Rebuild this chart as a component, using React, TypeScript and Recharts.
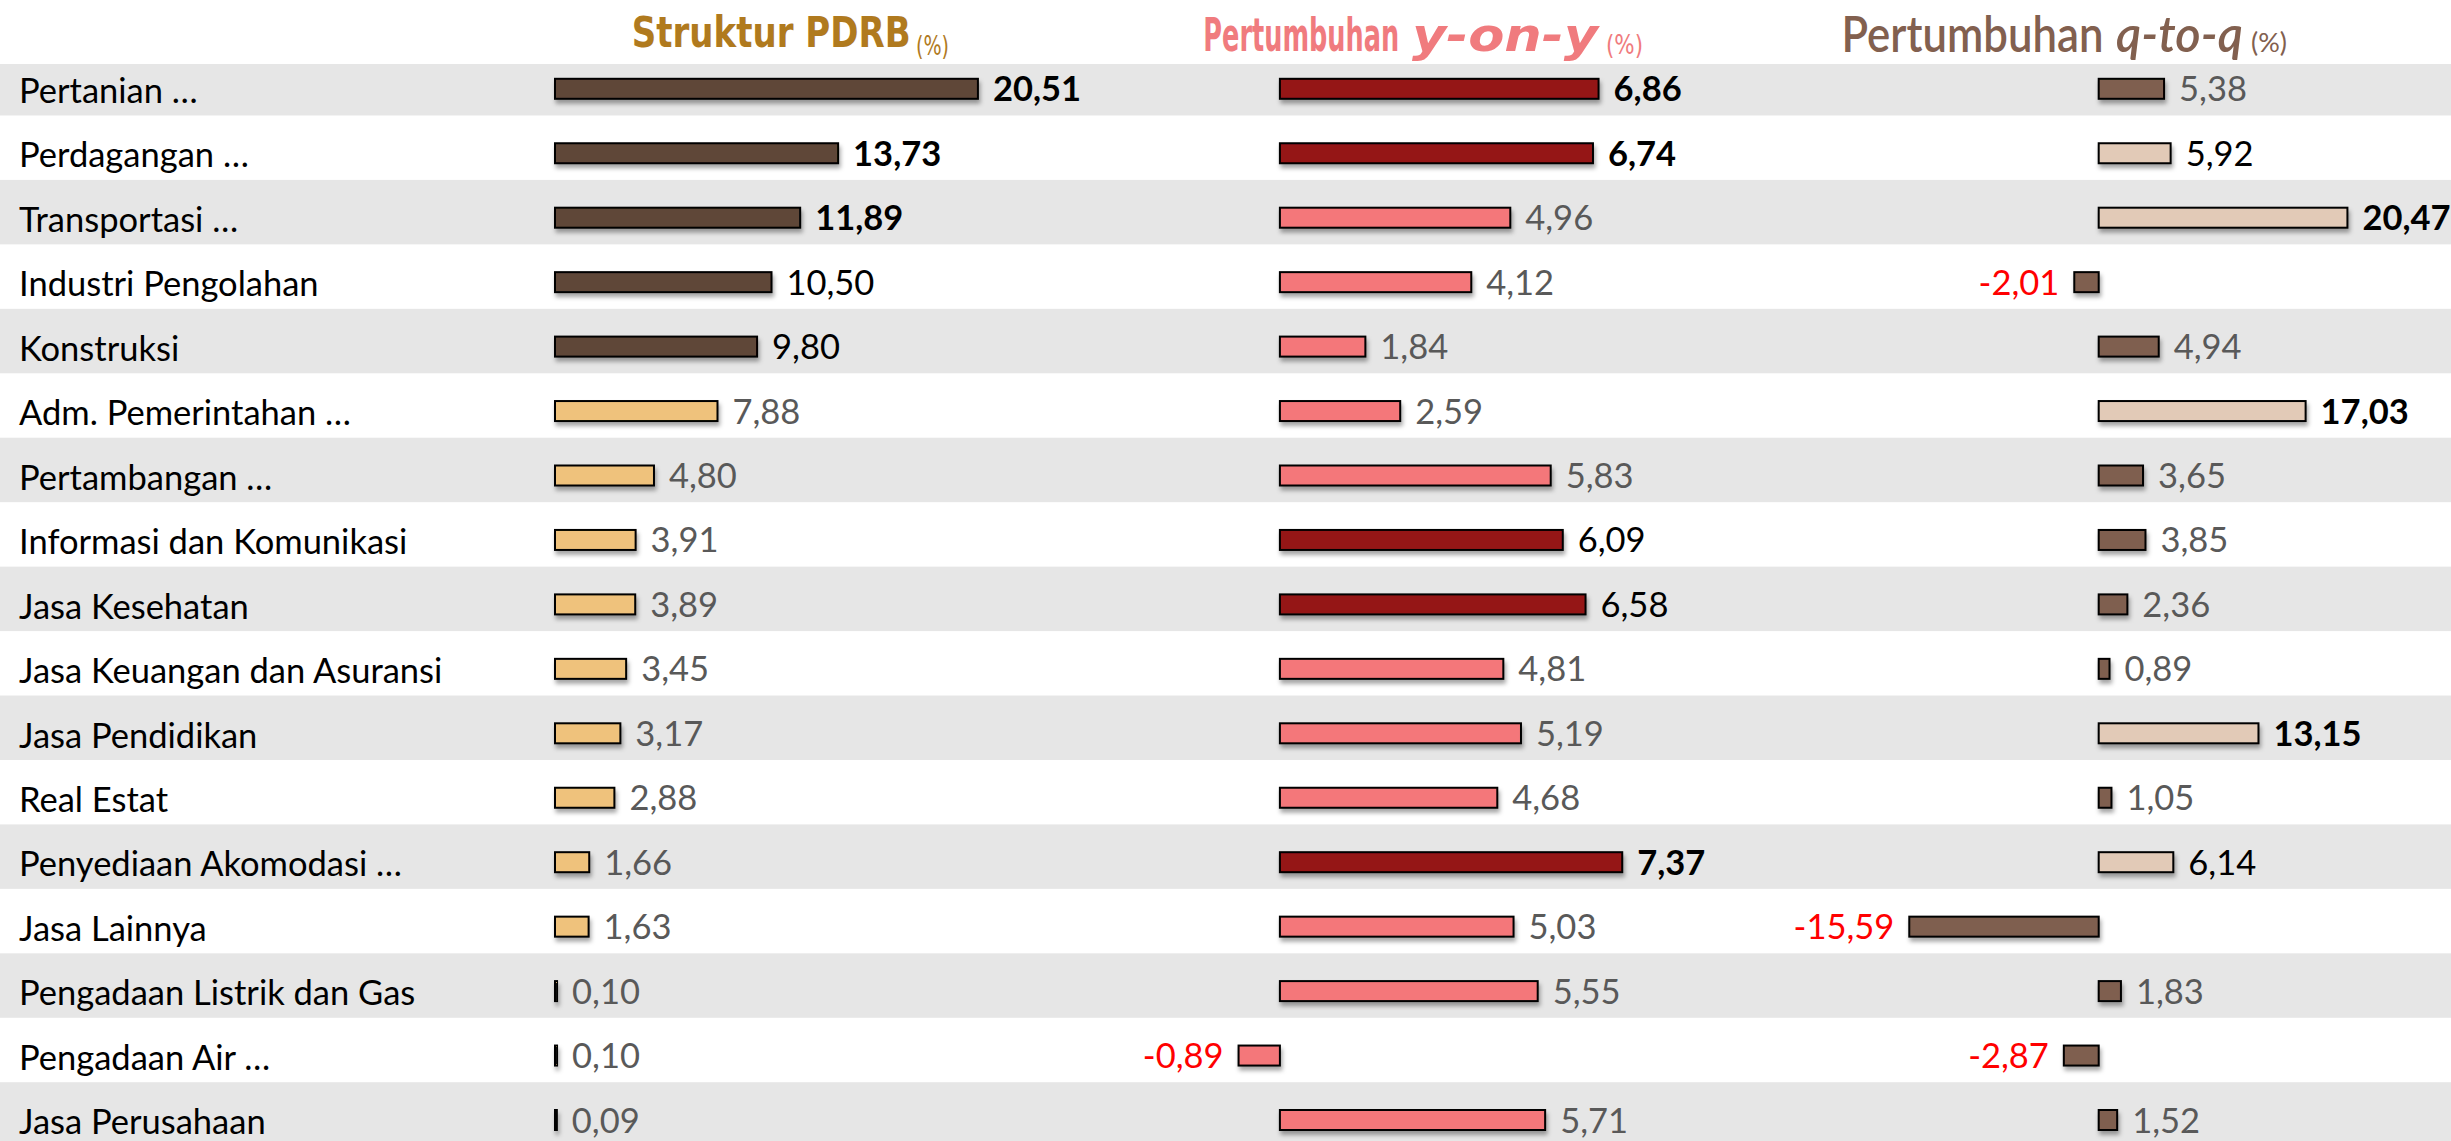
import React from "react";
import { BarChart, Bar, XAxis, YAxis } from "recharts";

const sectors = [
  "Pertanian …",
  "Perdagangan …",
  "Transportasi …",
  "Industri Pengolahan",
  "Konstruksi",
  "Adm. Pemerintahan …",
  "Pertambangan …",
  "Informasi dan Komunikasi",
  "Jasa Kesehatan",
  "Jasa Keuangan dan Asuransi",
  "Jasa Pendidikan",
  "Real Estat",
  "Penyediaan Akomodasi …",
  "Jasa Lainnya",
  "Pengadaan Listrik dan Gas",
  "Pengadaan Air …",
  "Jasa Perusahaan",
];

const strukturPdrb = [20.51, 13.73, 11.89, 10.5, 9.8, 7.88, 4.8, 3.91, 3.89, 3.45, 3.17, 2.88, 1.66, 1.63, 0.1, 0.1, 0.09];
const pertumbuhanYoy = [6.86, 6.74, 4.96, 4.12, 1.84, 2.59, 5.83, 6.09, 6.58, 4.81, 5.19, 4.68, 7.37, 5.03, 5.55, -0.89, 5.71];
const pertumbuhanQtq = [5.38, 5.92, 20.47, -2.01, 4.94, 17.03, 3.65, 3.85, 2.36, 0.89, 13.15, 1.05, 6.14, -15.59, 1.83, -2.87, 1.52];

const PAGE_W = 2451;
const PAGE_H = 1141;
const CHART_H = 1160;
const ROW_H = 64.45;
const PLOT_TOP = 56.8;
const PLOT_BOTTOM = CHART_H - PLOT_TOP - ROW_H * sectors.length;
const HEADER_BOTTOM = 64;
const STRIPE = "#e6e6e6";

const FONT = "Lato, 'Open Sans', sans-serif";
const TITLE_FONT = "'DejaVu Sans Condensed', 'DejaVu Sans', sans-serif";

const rows = sectors.map((name, i) => ({
  name,
  struktur: strukturPdrb[i],
  yoy: pertumbuhanYoy[i],
  qtq: pertumbuhanQtq[i],
}));

function rankOf(values: number[]) {
  const order = values.map((_, i) => i).sort((a, b) => values[b] - values[a]);
  const r: number[] = new Array(values.length);
  order.forEach((idx, pos) => (r[idx] = pos));
  return r;
}

const fmt = (v: number) => v.toFixed(2).replace(".", ",");

// measure natural text width so title pieces can be scaled to the reference width
const measureCtx = typeof document !== "undefined" ? document.createElement("canvas").getContext("2d") : null;

function FitText(props: {
  x: number;
  y: number;
  width: number;
  text: string;
  family: string;
  size: number;
  fill: string;
  weight?: number;
  italic?: boolean;
}) {
  const { x, y, width, text, family, size, fill, weight = 400, italic = false } = props;
  let natural = width;
  if (measureCtx) {
    measureCtx.font = `${italic ? "italic " : ""}${weight} ${size}px ${family}`;
    natural = measureCtx.measureText(text).width || width;
  }
  const sx = width / natural;
  return (
    <text
      transform={`translate(${x},${y}) scale(${sx},1)`}
      fontFamily={family}
      fontSize={size}
      fontWeight={weight}
      fontStyle={italic ? "italic" : "normal"}
      fill={fill}
    >
      {text}
    </text>
  );
}

type Panel = {
  id: "struktur" | "yoy" | "qtq";
  values: number[];
  domain: [number, number];
  left: number;
  width: number;
  marginLeft: number;
  marginRight: number;
  topFill: string;
  restFill: string;
};

const panels: Panel[] = [
  { id: "struktur", values: strukturPdrb, domain: [0, 25], left: 544.5, width: 675.5, marginLeft: 10, marginRight: 150, topFill: "#5f4639", restFill: "#efc27c" },
  { id: "yoy", values: pertumbuhanYoy, domain: [-2, 8], left: 1087.4, width: 664.5, marginLeft: 100, marginRight: 100, topFill: "#951619", restFill: "#f4777a" },
  { id: "qtq", values: pertumbuhanQtq, domain: [-18, 22], left: 1780.3, width: 676, marginLeft: 100, marginRight: 90, topFill: "#e2cab7", restFill: "#7f5f50" },
];

function labelStyle(v: number, rank: number) {
  if (v < 0) return { fill: "#ff0000", weight: 400 };
  if (rank < 3) return { fill: "#000000", weight: 700 };
  if (rank < 5) return { fill: "#000000", weight: 400 };
  return { fill: "#595959", weight: 400 };
}

function makeShape(panel: Panel) {
  const ranks = rankOf(panel.values);
  return (props: any) => {
    const { x, y, width, height, payload } = props;
    const i = sectors.indexOf(payload.name);
    const v = payload[panel.id] as number;
    const x0 = Math.min(x, x + width);
    const w = Math.abs(width);
    const st = labelStyle(v, ranks[i]);
    const cy = y + height / 2;
    return (
      <g>
        <rect
          x={x0}
          y={y}
          width={w}
          height={height}
          fill={ranks[i] < 5 ? panel.topFill : panel.restFill}
          stroke="#000"
          strokeWidth={2}
          filter={`url(#shadow-${panel.id})`}
        />
        <text
          x={v >= 0 ? x0 + w + 15 : x0 - 15}
          y={cy + 12.5}
          textAnchor={v >= 0 ? "start" : "end"}
          fontFamily={FONT}
          fontSize={34.5}
          fontWeight={st.weight}
          fill={st.fill}
        >
          {fmt(v)}
        </text>
      </g>
    );
  };
}

function SectorTick(props: any) {
  const { y, payload } = props;
  const i = sectors.indexOf(payload.value);
  const top = Math.max(y - 38, HEADER_BOTTOM);
  const bottom = y - 38 + ROW_H;
  return (
    <g>
      {i % 2 === 0 && <rect x={0} y={top} width={PAGE_W} height={bottom - top} fill={STRIPE} />}
      <text x={19} y={y + 14} fontFamily={FONT} fontSize={34.5} fill="#000">
        {payload.value}
      </text>
    </g>
  );
}

function PanelChart({ panel }: { panel: Panel }) {
  return (
    <div style={{ position: "absolute", left: panel.left, top: 0 }}>
      <BarChart
        width={panel.width}
        height={CHART_H}
        data={rows}
        layout="vertical"
        barSize={20}
        margin={{ top: PLOT_TOP, bottom: PLOT_BOTTOM, left: panel.marginLeft, right: panel.marginRight }}
      >
        <defs>
          <filter id={`shadow-${panel.id}`} filterUnits="userSpaceOnUse" x={-200} y={-200} width={1200} height={1600}>
            <feDropShadow dx={1.5} dy={4} stdDeviation={2} floodColor="#000" floodOpacity={0.35} />
          </filter>
        </defs>
        <XAxis type="number" domain={panel.domain} hide />
        <YAxis type="category" dataKey="name" hide />
        <Bar dataKey={panel.id} isAnimationActive={false} shape={makeShape(panel)} />
      </BarChart>
    </div>
  );
}

export default function App() {
  return (
    <div style={{ position: "absolute", left: 0, top: 0, width: PAGE_W, height: PAGE_H, overflow: "hidden", background: "#fff" }}>
      <div style={{ position: "absolute", left: 0, top: 0 }}>
        <BarChart
          width={PAGE_W}
          height={CHART_H}
          data={rows}
          layout="vertical"
          margin={{ top: PLOT_TOP, bottom: PLOT_BOTTOM, left: 0, right: 0 }}
        >
          <XAxis type="number" domain={[0, 1]} hide />
          <YAxis
            type="category"
            dataKey="name"
            width={554.5}
            axisLine={false}
            tickLine={false}
            interval={0}
            tick={<SectorTick />}
          />
          <FitText x={631.7} y={47} width={279} text="Struktur PDRB" family={TITLE_FONT} size={42} weight={700} fill="#b07a1e" />
          <FitText x={916} y={55} width={33} text="(%)" family={TITLE_FONT} size={27} fill="#b07a1e" />
          <FitText x={1203.3} y={51} width={196} text="Pertumbuhan" family={TITLE_FONT} size={47} weight={700} fill="#f07b7e" />
          <FitText x={1412} y={51} width={186} text="y-on-y" family={TITLE_FONT} size={47} weight={700} italic fill="#f07b7e" />
          <FitText x={1606} y={53.5} width={37} text="(%)" family={TITLE_FONT} size={26} fill="#f07b7e" />
          <FitText x={1841.5} y={51.7} width={262} text="Pertumbuhan" family={FONT} size={50} weight={600} fill="#82604f" />
          <FitText x={2116} y={51.7} width={127} text="q-to-q" family={FONT} size={50} weight={600} italic fill="#82604f" />
          <FitText x={2251} y={52} width={36} text="(%)" family={FONT} size={26} fill="#82604f" />
        </BarChart>
      </div>
      {panels.map((p) => (
        <PanelChart key={p.id} panel={p} />
      ))}
    </div>
  );
}
